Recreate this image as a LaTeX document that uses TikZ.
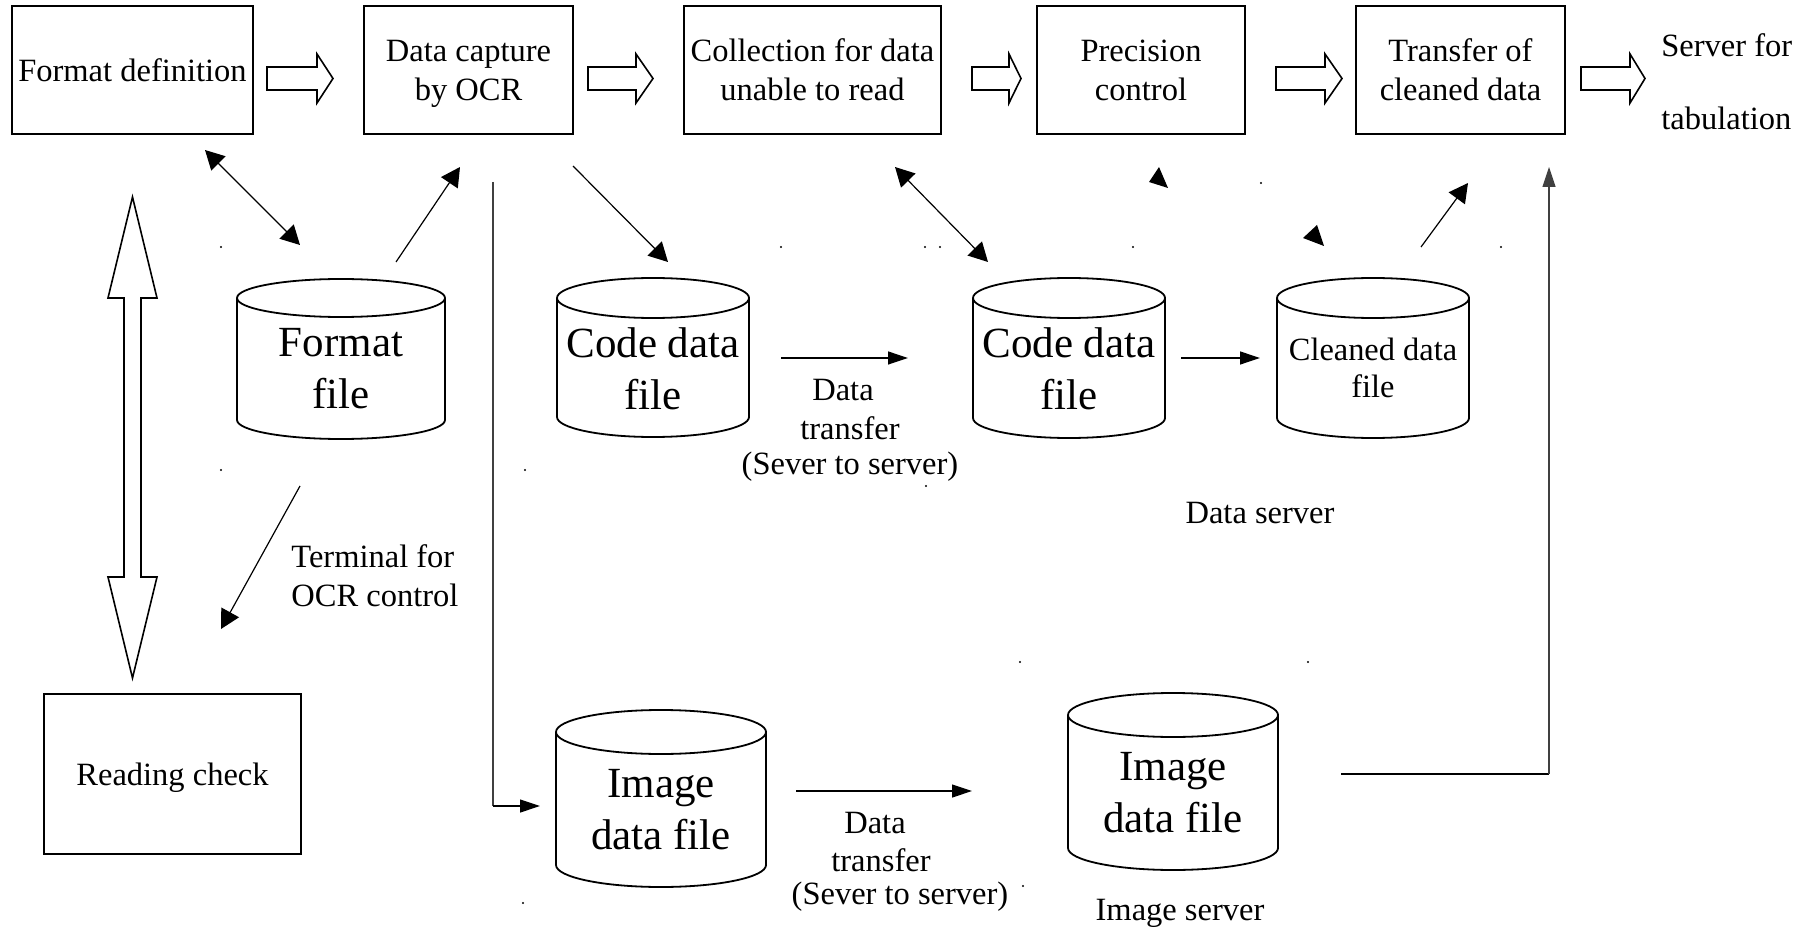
\documentclass[tikz,border=0pt]{standalone}
\usepackage{fontspec}
\setmainfont{Liberation Serif}
\usetikzlibrary{arrows.meta}
\newcommand\boxfont{\fontsize{16.25}{19.5}\selectfont}
\newcommand\bigfont{\fontsize{21.5}{26}\selectfont}
\newcommand\cleanfont{\fontsize{16.2}{18.5}\selectfont}
\newcommand\dbcyl[5]{%
  \draw[cyl] ({#1-#4},#3) -- ({#1-#4},#2) ({#1+#4},#2) -- ({#1+#4},#3)
    ({#1-#4},#3) arc[start angle=180,end angle=360,x radius=#4*0.5pt,y radius=#5*0.5pt]
    (#1,#2) ellipse[x radius=#4*0.5pt,y radius=#5*0.5pt];}
\newcommand\blockarr[3]{% x0, xbase, xtip ; centre y 78.5
  \draw[hollow] (#1,67) -- (#2,67) -- (#2,54) -- (#3,78.5) -- (#2,103) -- (#2,90) -- (#1,90) -- cycle;}
\begin{document}
\begin{tikzpicture}[x=0.5pt,y=-0.5pt,
  box/.style={draw, line width=0.8pt, inner sep=1pt, align=center, font=\boxfont, minimum height=64pt, text depth=0pt},
  cyltext/.style={align=center, font=\bigfont, inner sep=0pt},
  cyl/.style={line width=0.9pt},
  lbl/.style={font=\boxfont, inner sep=0pt},
  hollow/.style={draw, line width=0.8pt, fill=white},
  diag/.style={line width=0.6pt, -{Triangle[length=9.5pt,width=10pt]}},
  diagboth/.style={line width=0.6pt, {Triangle[length=9.5pt,width=10pt]}-{Triangle[length=9.5pt,width=10pt]}},
  straight/.style={line width=0.6pt, -{Triangle[length=10pt,width=6.5pt]}},
  greyline/.style={line width=0.6pt, draw=black!75},
  dot/.style={fill=black}]
\useasboundingbox (0,0) rectangle (1809,930);

% top row boxes
\node[box, minimum width=120.5pt] (fmtdef) at (132.5,70) {Format definition};
\node[box, minimum width=104.5pt] (capture) at (468.5,70) {Data capture\\by OCR};
\node[box, minimum width=128.5pt] (collect) at (812.5,70) {Collection for data\\unable to read};
\node[box, minimum width=104pt] (precis) at (1141,70) {Precision\\control};
\node[box, minimum width=104.5pt] (transfer) at (1460.5,70) {Transfer of\\cleaned data};
\node[lbl, anchor=west] (serv1) at (1661,45) {Server for};
\node[lbl, anchor=west] (serv2) at (1661,118) {tabulation};

% block arrows
\blockarr{267}{317}{333}
\blockarr{588}{636}{653}
\blockarr{972}{1009}{1021}
\blockarr{1276}{1325}{1342}
\blockarr{1581}{1630}{1645}

% reading check box
\node[box, minimum width=128.5pt, minimum height=80pt] (reading) at (172.5,774) {Reading check};

% hollow double arrow
\draw[hollow] (132.5,197) -- (157,298) -- (141,298) -- (141,577) -- (157,577) -- (132.5,678)
  -- (108,577) -- (124,577) -- (124,298) -- (108,298) -- cycle;

% cylinders
\dbcyl{341}{298}{420}{104}{19}
\node[cyltext] (fmtfile) at (341,369) {Format\\file};
\dbcyl{653}{298}{417}{96}{20}
\node[cyltext] (code1) at (653,369) {Code data\\file};
\dbcyl{1069}{298}{418}{96}{20}
\node[cyltext] (code2) at (1069,369) {Code data\\file};
\dbcyl{1373}{298}{418}{96}{20}
\node[align=center, font=\cleanfont, inner sep=0pt] (clean) at (1373,368) {Cleaned data\\file};
\dbcyl{661}{732}{865}{105}{22}
\node[cyltext] (img1) at (661,810) {Image\\data file};
\dbcyl{1173}{715}{848}{105}{22}
\node[cyltext] (img2) at (1173,793) {Image\\data file};

% labels
\node[lbl, anchor=west, align=left] (term) at (291,576) {Terminal for\\OCR control};
\node[lbl] (dta) at (843,390) {Data};
\node[lbl] (dtb) at (850,428) {transfer};
\node[lbl] (dtc) at (850,467) {(Sever to server)};
\node[lbl] (dsrv) at (1260,513) {Data server};
\node[lbl] (dia) at (875,823) {Data};
\node[lbl] (dib) at (881,860) {transfer};
\node[lbl] (dic) at (900,897) {(Sever to server)};
\node[lbl] (isrv) at (1180,913) {Image server};

% connector end points
\coordinate (a1s) at (205,150); \coordinate (a1e) at (300,245);
\coordinate (a2s) at (396,262); \coordinate (a2e) at (460,167);
\coordinate (a3s) at (573,166); \coordinate (a3e) at (668,262);
\coordinate (a4s) at (493,182); \coordinate (a4m) at (493,806); \coordinate (a4e) at (540,806);
\coordinate (a5s) at (300,486); \coordinate (a5e) at (221,629);
\coordinate (a6s) at (781,358); \coordinate (a6e) at (908,358);
\coordinate (a7s) at (895,167); \coordinate (a7e) at (988,262);
\coordinate (a8s) at (1181,358); \coordinate (a8e) at (1260,358);
\coordinate (a9s) at (1421,247); \coordinate (a9e) at (1468,183);
\coordinate (a10s) at (796,791); \coordinate (a10e) at (972,791);
\coordinate (a11s) at (1341,774); \coordinate (a11m) at (1549,774); \coordinate (a11e) at (1549,167);

\draw[diagboth] (a1s) -- (a1e);
\draw[diag] (a2s) -- (a2e);
\draw[diag] (a3s) -- (a3e);
\draw[greyline] (a4s) -- (a4m);
\draw[straight] (a4m) -- (a4e);
\draw[diag] (a5s) -- (a5e);
\draw[straight] (a6s) -- (a6e);
\draw[diagboth] (a7s) -- (a7e);
\draw[straight] (a8s) -- (a8e);
\draw[diag] (a9s) -- (a9e);
\draw[straight] (a10s) -- (a10e);
\draw[line width=0.6pt] (a11s) -- (a11m);
\draw[straight, draw=black!75] (a11m) -- (a11e);

% lone arrowheads
\fill (1159,167) -- (1149,182) -- (1168,188) -- cycle;
\fill (1303,238) -- (1317,225) -- (1324,246) -- cycle;

% stray dots
\foreach \p in {(221,247),(781,247),(925,247),(940,247),(1133,247),(1261,183),(1501,247),
  (221,470),(525,470),(926,486),(1020,662),(1308,662),(1023,886),(523,903)}
  \fill[dot] \p circle (0.6pt);
\end{tikzpicture}
\end{document}
